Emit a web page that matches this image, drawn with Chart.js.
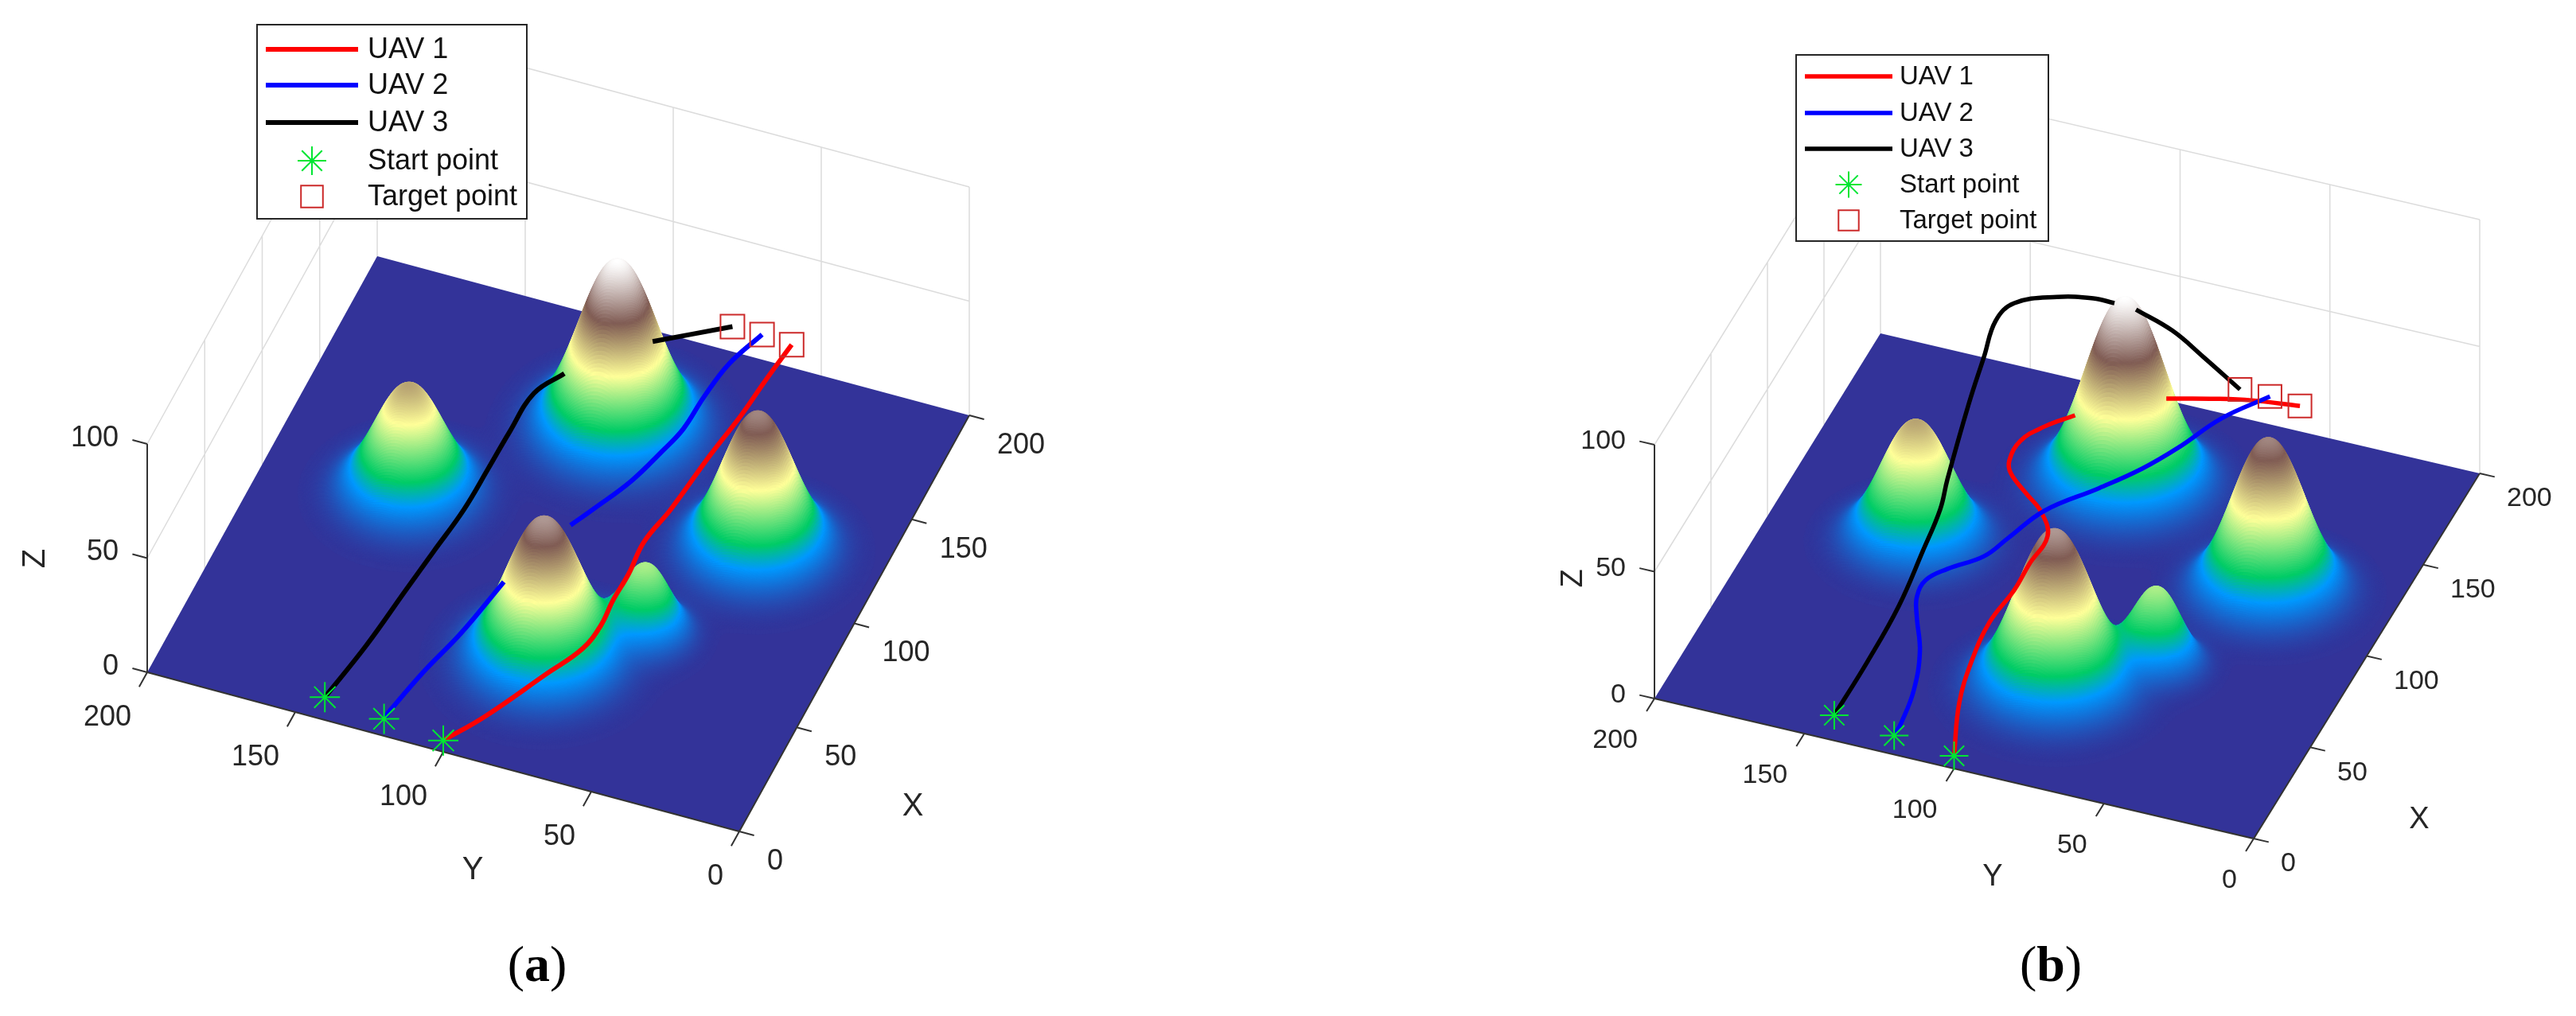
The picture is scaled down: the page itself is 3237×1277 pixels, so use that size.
<!DOCTYPE html>
<html>
<head>
<meta charset="utf-8">
<title>UAV paths</title>
<script src="https://cdn.jsdelivr.net/npm/chart.js@4"></script>
<style>
  html, body { margin: 0; padding: 0; background: #fff; }
  canvas { display: block; }
</style>
</head>
<body>
<canvas id="myChart" width="3237" height="1277"></canvas>
<script>
// tick labels
const xTicks = [0, 50, 100, 150, 200];
const yTicks = [0, 50, 100, 150, 200];
const zTicks = [0, 50, 100];
const legendLabels = ["UAV 1", "UAV 2", "UAV 3", "Start point", "Target point"];

const peakX = [154, 104, 119, 49, 71];
const peakY = [101, 152, 40, 85, 59];
const peakZ = [73.5, 47, 60, 62, 30];
const peakWidth = [17, 15, 15.5, 16.5, 10];
const colorTop = 73.5;

// start and target points, order is UAV 1, 2, 3
const startX = [0, 0, 0];
const startY = [100, 120, 140];
const startZ = [5, 7.5, 10];
const targetX = [200, 200, 200];
const targetY = [60, 70, 80];
const targetZ = [10, 11, 11];

// paths in view (a), null = hidden behind a peak
const uav1XA = [0, 10.1, 34.5, 49.3, 61, 73, 85.8, 100.8, 117.5, 144.9, 164.7, 182.1, 200];
const uav1YA = [100, 89.7, 78.7, 72.1, 70.5, 71, 70.7, 71.4, 68.8, 66, 63.4, 61.9, 60];
const uav1ZA = [5, 10, 10, 10, 10, 10, 10, 10, 10, 10, 10, 10, 10];
const uav2XA = [0, 2.1, 22.2, 41.9, 68.4, null, 99.6, 108.7, 125, 140.8, 152.5, 168.5, 185, 200];
const uav2YA = [120, 118.6, 115, 110.4, 106.1, null, 95.7, 91.7, 85, 80.8, 78.2, 77.3, 75.3, 70];
const uav2ZA = [7.5, 10, 10, 10, 10, null, 10, 10, 10, 10, 10, 10, 10, 11];
const uav3XA = [0, 26.5, 53.9, 73.2, 94.2, 114.3, 131.6, 150.7, 162.4, null, 185.7, 200];
const uav3YA = [140, 136.2, 133.6, 131.7, 129.6, 129.1, 128.8, 127.9, 122.2, null, 101.4, 80];
const uav3ZA = [10, 10, 10, 10, 10, 10, 10, 10, 10, null, 10, 11];

// paths in view (b)
const uav1XB = [0, 19.6, 41.2, 61.9, 80, 94.1, 109.5, 120.2, 127.6, 135.4, 141.4, 152.1, 161.6, 170.4, null, 188.6, 194, 197.3, 200];
const uav1YB = [100, 105.7, 109.7, 111.5, 110.1, 110.4, 110.1, 116.2, 124.1, 132.1, 134.9, 135.2, 130.8, 123.9, null, 100.3, 86, 75.2, 60];
const uav1ZB = [5, 10, 10, 10, 10, 10, 10, 10, 10, 10, 10, 10, 10, 10, null, 10, 10, 10, 10];
const uav2XB = [0, 4.05, 20.8, 40, 56.8, 66, 74.9, 82.6, 92.8, 104, 121.3, 138.3, 152.4, 166.6, 185.2, 200];
const uav2YB = [120, 119.1, 121.3, 126.5, 133.9, 137.3, 137.7, 133.4, 125, 121.3, 115.6, 103.7, 94.7, 87.9, 80.7, 70];
const uav2ZB = [7.5, 10, 10, 10, 10, 10, 10, 10, 10, 10, 10, 10, 10, 10, 10, 11];
const uav3XB = [0, 25.9, 49.6, 70, 86.1, 93.7, 112.4, 122.8, 129.1, 132.3, 137.6, 143.4, 145.9, null, 152.5, 163.5, 176.4, 200];
const uav3YB = [140, 138.6, 137.2, 136.9, 137.1, 137.6, 137.6, 136.3, 134.8, 129.8, 117.6, 107.6, 101.5, null, 96.8, 88.8, 83.5, 80];
const uav3ZB = [10, 13, 18, 25, 30, 36, 52, 64, 74, 80, 82, 80, 78, null, 72, 58, 40, 11];

const uavColors = ["#ff0000", "#0000ff", "#000000"];

// the two camera views
const views = [
  {
    ox: 929, oy: 1045, xx: 1.445, xy: -2.615, yx: -3.72, yy: -1, zy: -2.87,
    paths: [[uav1XA, uav1YA, uav1ZA], [uav2XA, uav2YA, uav2ZA], [uav3XA, uav3YA, uav3ZA]],
    lineWidth: 6, starSize: 19, squareSize: 21.2, tickFont: 36, labelFont: 40,
    zLabel: [-36, -7], xLabel: [35, 38], yLabel: [-20, 57],
    xName: [1147, 1014], yName: [594, 1094], zName: [45, 702],
    legend: { left: 323, top: 31, right: 662, bottom: 275, rows: [62, 107, 154, 202, 247], x0: 334, x1: 450, textX: 462, font: 36, star: 18, square: 19.5 },
    caption: "a", captionX: 675
  },
  {
    ox: 2832, oy: 1054, xx: 1.42, xy: -2.295, yx: -3.765, yy: -0.88, zy: -3.19,
    paths: [[uav1XB, uav1YB, uav1ZB], [uav2XB, uav2YB, uav2ZB], [uav3XB, uav3YB, uav3ZB]],
    lineWidth: 5.5, starSize: 18, squareSize: 20.5, tickFont: 34, labelFont: 38,
    zLabel: [-36, -4], xLabel: [34, 32], yLabel: [-21, 53],
    xName: [3040, 1031], yName: [2504, 1103], zName: [1978, 727],
    legend: { left: 2257, top: 69, right: 2574, bottom: 303, rows: [96, 142, 187, 232, 277], x0: 2268, x1: 2378, textX: 2387, font: 33, star: 16.5, square: 18 },
    caption: "b", captionX: 2577
  }
];

function project(view, x, y, z) {
  return {
    x: view.ox + x * view.xx + y * view.yx,
    y: view.oy + x * view.xy + y * view.yy + z * view.zy
  };
}

// list of [x,y,z] -> chart points, null starts a new piece
function toPoints(view, list) {
  return list.map(p => p ? project(view, p[0], p[1], p[2]) : { x: NaN, y: NaN });
}

function pathPoints(view, path) {
  return path[0].map((x, i) => x === null ? { x: NaN, y: NaN } : project(view, x, path[1][i], path[2][i]));
}

function height(x, y) {
  let z = 0;
  peakX.forEach((px, i) => {
    const d = ((x - px) ** 2 + (y - peakY[i]) ** 2) / (peakWidth[i] ** 2);
    z += peakZ[i] * Math.exp(-d);
  });
  return z;
}

// same stops as the "terrain" colormap
const colorStops = [
  [0, 51, 51, 153], [0.15, 0, 153, 255], [0.25, 0, 204, 102],
  [0.5, 255, 255, 153], [0.75, 128, 92, 84], [1, 255, 255, 255]
];

function terrainColor(z) {
  const t = Math.min(z / colorTop, 1);
  let i = 0;
  while (i < colorStops.length - 2 && t > colorStops[i + 1][0]) i++;
  const a = colorStops[i], b = colorStops[i + 1];
  const f = (t - a[0]) / (b[0] - a[0]);
  const c = [1, 2, 3].map(k => Math.round(a[k] + (b[k] - a[k]) * f));
  return `rgb(${c[0]},${c[1]},${c[2]})`;
}

// far points first so the near ones paint over them
function surfaceCells(view) {
  const cells = [];
  for (let x = 0; x <= 200; x += 0.4) {
    for (let y = 0; y <= 200; y += 0.4) {
      const z = height(x, y);
      if (z > 0.25) {
        cells.push({ depth: view.oy + x * view.xy + y * view.yy, p: project(view, x, y, z), c: terrainColor(z) });
      }
    }
  }
  cells.sort((a, b) => a.depth - b.depth);
  return cells;
}

function gridLines() {
  const top = zTicks[zTicks.length - 1];
  const list = [];
  yTicks.forEach(y => { list.push([200, y, 0], [200, y, top], null); });
  xTicks.forEach(x => { if (x > 0) list.push([x, 200, 0], [x, 200, top], null); });
  zTicks.forEach(z => {
    if (z > 0) list.push([0, 200, z], [200, 200, z], [200, 0, z], null);
  });
  return list;
}

function axisLines() {
  const list = [[0, 200, 0], [0, 200, 100], null, [0, 200, 0], [0, 0, 0], [200, 0, 0], null];
  // ticks stick out of the box along the other ground axis
  yTicks.forEach(y => { list.push([0, y, 0], [-7, y, 0], null); });
  xTicks.forEach(x => { list.push([x, 0, 0], [x, -5, 0], null); });
  zTicks.forEach(z => { list.push([0, 200, z], [0, 205, z], null); });
  return list;
}

const datasets = [];
let drawIndex = 0;
function addDataset(ds) {
  drawIndex++;
  // chart.js paints high order first
  ds.order = 100 - drawIndex;
  datasets.push(ds);
}

views.forEach(view => {
  addDataset({
    label: "grid", data: toPoints(view, gridLines()), showLine: true, pointRadius: 0,
    borderColor: "#dcdcdc", borderWidth: 1.5, spanGaps: false
  });
  addDataset({
    label: "ground",
    data: toPoints(view, [[0, 0, 0], [200, 0, 0], [200, 200, 0], [0, 200, 0], [0, 0, 0]]),
    showLine: true, pointRadius: 0, borderWidth: 0, fill: "shape", backgroundColor: "#333399"
  });
  const cells = surfaceCells(view);
  addDataset({
    label: "surface", data: cells.map(c => c.p), parsing: false, normalized: true,
    showLine: false, pointRadius: 3.2, pointBorderWidth: 0,
    pointBackgroundColor: cells.map(c => c.c)
  });
  addDataset({
    label: "axes", data: toPoints(view, axisLines()), showLine: true, pointRadius: 0,
    borderColor: "#333333", borderWidth: 2, spanGaps: false
  });
  view.paths.forEach((path, i) => {
    addDataset({
      label: legendLabels[i], data: pathPoints(view, path), showLine: true, pointRadius: 0,
      borderColor: uavColors[i], borderWidth: view.lineWidth, tension: 0.4, spanGaps: false
    });
  });
  addDataset({
    label: legendLabels[3], data: startX.map((x, i) => project(view, x, startY[i], startZ[i])),
    showLine: false, pointStyle: "star", pointRadius: view.starSize,
    pointBorderColor: "#00e633", pointBorderWidth: 2
  });
  addDataset({
    label: legendLabels[4], data: targetX.map((x, i) => project(view, x, targetY[i], targetZ[i])),
    showLine: false, pointStyle: "rect", pointRadius: view.squareSize,
    pointBorderColor: "#cc2a2a", pointBorderWidth: 2, pointBackgroundColor: "rgba(0,0,0,0)"
  });
});

// tick texts, axis names, legend box and captions are placed from the same projection
const annotations = {
  id: "annotations",
  afterDatasetsDraw(chart) {
    const ctx = chart.ctx;
    const sx = chart.scales.x, sy = chart.scales.y;
    const at = (p, dx, dy) => [sx.getPixelForValue(p.x) + dx, sy.getPixelForValue(p.y) + dy];
    ctx.save();
    views.forEach(view => {
      ctx.fillStyle = "#262626";
      ctx.textBaseline = "middle";
      ctx.font = `${view.tickFont}px "Liberation Sans"`;
      ctx.textAlign = "left";
      xTicks.forEach(x => {
        const [px, py] = at(project(view, x, 0, 0), view.xLabel[0], view.xLabel[1]);
        ctx.fillText(String(x), px, py);
      });
      ctx.textAlign = "right";
      yTicks.forEach(y => {
        const [px, py] = at(project(view, 0, y, 0), view.yLabel[0], view.yLabel[1]);
        ctx.fillText(String(y), px, py);
      });
      zTicks.forEach(z => {
        const [px, py] = at(project(view, 0, 200, z), view.zLabel[0], view.zLabel[1]);
        ctx.fillText(String(z), px, py);
      });

      ctx.font = `${view.labelFont}px "Liberation Sans"`;
      ctx.textAlign = "center";
      ctx.fillText("X", view.xName[0], view.xName[1]);
      ctx.fillText("Y", view.yName[0], view.yName[1]);
      ctx.save();
      ctx.translate(view.zName[0], view.zName[1]);
      ctx.rotate(-Math.PI / 2);
      ctx.fillText("Z", 0, 0);
      ctx.restore();

      // legend
      const lg = view.legend;
      ctx.fillStyle = "#ffffff";
      ctx.fillRect(lg.left, lg.top, lg.right - lg.left, lg.bottom - lg.top);
      ctx.strokeStyle = "#262626";
      ctx.lineWidth = 2;
      ctx.strokeRect(lg.left, lg.top, lg.right - lg.left, lg.bottom - lg.top);
      ctx.font = `${lg.font}px "Liberation Sans"`;
      ctx.textAlign = "left";
      legendLabels.forEach((label, i) => {
        const y = lg.rows[i];
        const mid = (lg.x0 + lg.x1) / 2;
        if (i < 3) {
          ctx.strokeStyle = uavColors[i];
          ctx.lineWidth = view.lineWidth;
          ctx.beginPath();
          ctx.moveTo(lg.x0, y);
          ctx.lineTo(lg.x1, y);
          ctx.stroke();
        } else if (i === 3) {
          ctx.strokeStyle = "#00e633";
          ctx.lineWidth = 2;
          Chart.helpers.drawPoint(ctx, { pointStyle: "star", radius: lg.star, borderWidth: 2 }, mid, y);
        } else {
          ctx.strokeStyle = "#cc2a2a";
          ctx.lineWidth = 2;
          ctx.fillStyle = "rgba(0,0,0,0)";
          Chart.helpers.drawPoint(ctx, { pointStyle: "rect", radius: lg.square, borderWidth: 2 }, mid, y);
        }
        ctx.fillStyle = "#111111";
        ctx.fillText(label, lg.textX, y + 1);
      });

      // caption like (a), the letter is bold
      ctx.fillStyle = "#000000";
      const parenFont = '64px "Liberation Serif"';
      const letterFont = 'bold 64px "Liberation Serif"';
      ctx.font = parenFont;
      const w1 = ctx.measureText("(").width;
      const w3 = ctx.measureText(")").width;
      ctx.font = letterFont;
      const w2 = ctx.measureText(view.caption).width;
      let cx = view.captionX - (w1 + w2 + w3) / 2;
      ctx.textBaseline = "alphabetic";
      ctx.font = parenFont;
      ctx.fillText("(", cx, 1233);
      cx += w1;
      ctx.font = letterFont;
      ctx.fillText(view.caption, cx, 1233);
      cx += w2;
      ctx.font = parenFont;
      ctx.fillText(")", cx, 1233);
    });
    ctx.restore();
  }
};

const myChart = new Chart(document.getElementById("myChart"), {
  type: "scatter",
  data: { datasets },
  plugins: [annotations],
  options: {
    responsive: false,
    animation: false,
    events: [],
    clip: false,
    layout: { padding: 0, autoPadding: false },
    scales: {
      x: { type: "linear", display: false, min: 0, max: 3237 },
      y: { type: "linear", display: false, min: 0, max: 1277, reverse: true }
    },
    plugins: {
      legend: { display: false },
      tooltip: { enabled: false }
    }
  }
});
</script>
</body>
</html>
